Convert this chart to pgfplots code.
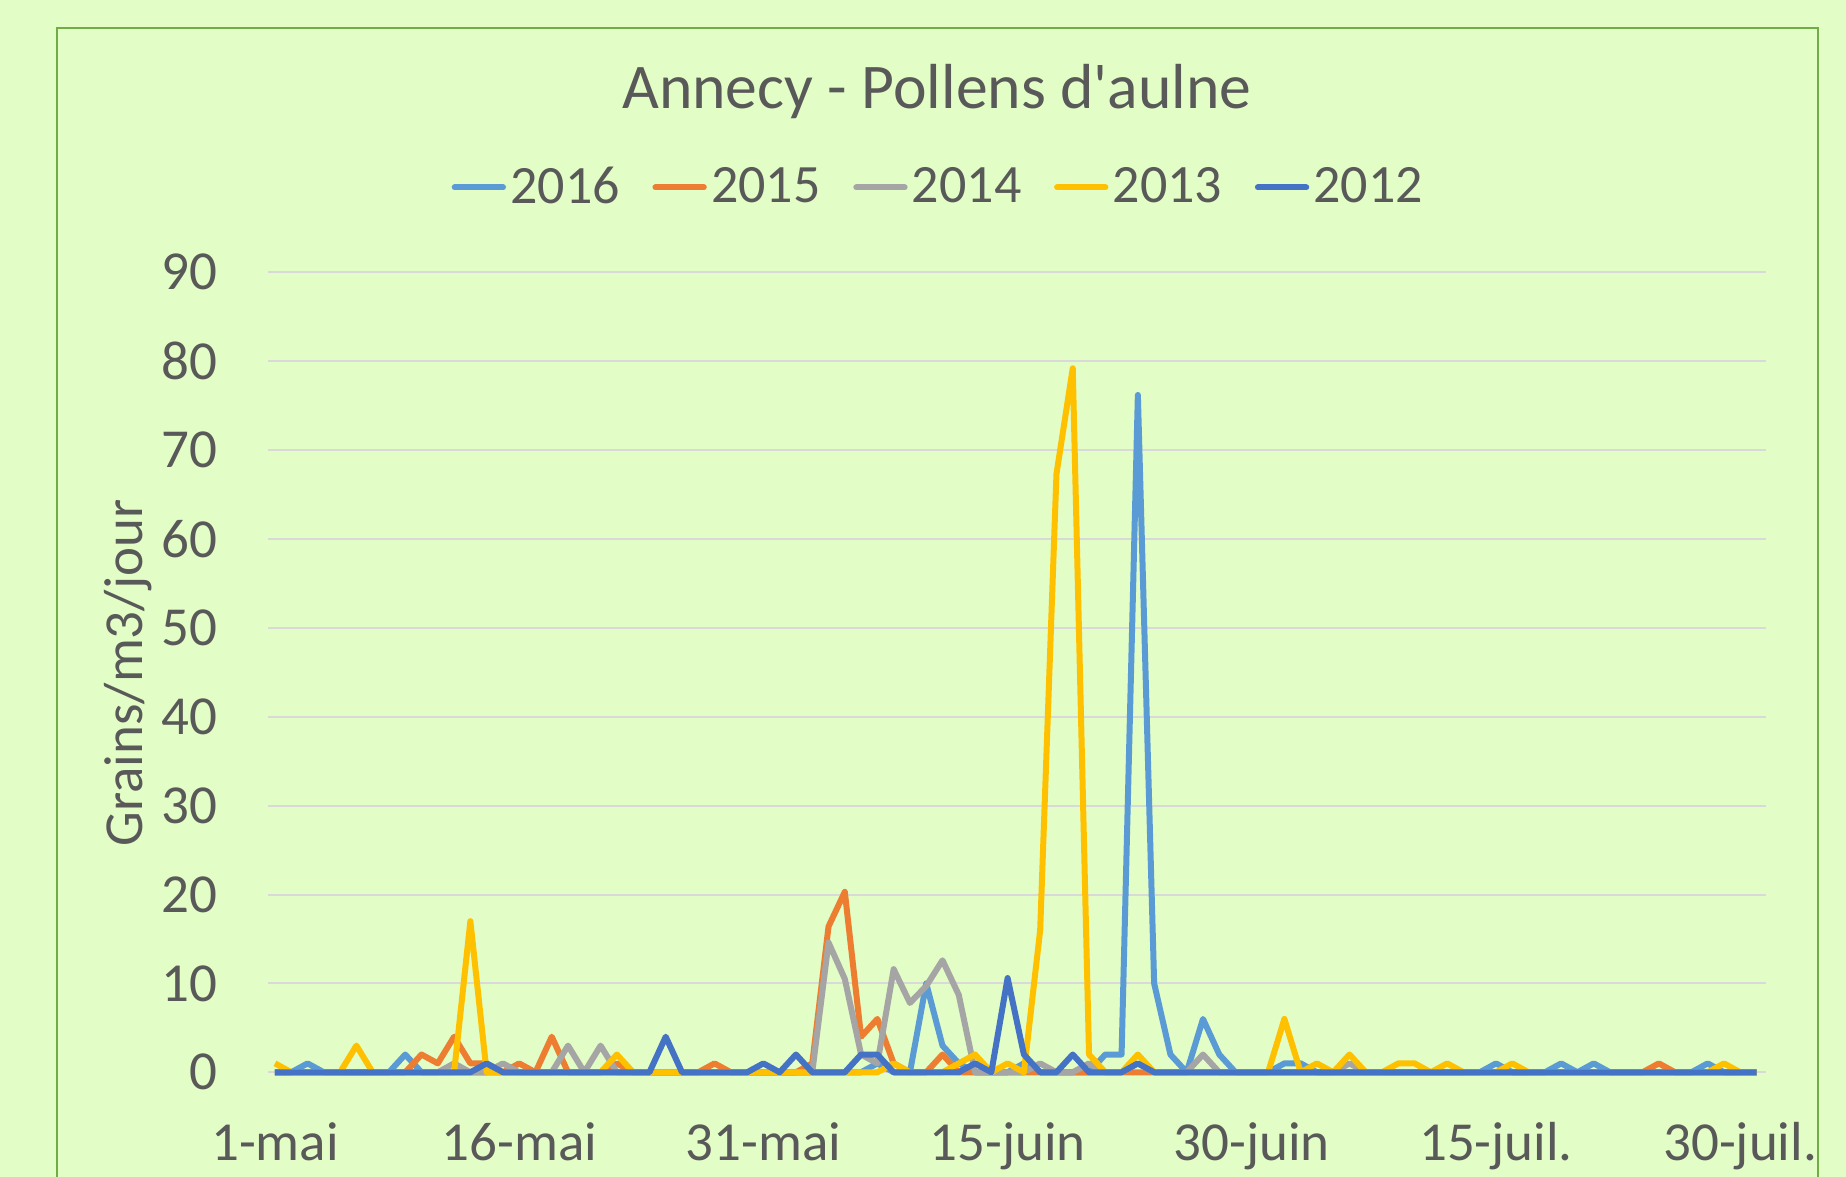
\documentclass[border=0pt]{standalone}
\usepackage{fontspec}
\setmainfont{Carlito}[Ligatures=TeXOff]
\usepackage{pgfplots}
\usepackage{pgfplotstable}
\pgfplotsset{compat=1.18}

\definecolor{bg}{RGB}{226,253,197}
\definecolor{frame}{RGB}{112,173,71}
\definecolor{txt}{RGB}{89,89,89}
\definecolor{gridc}{RGB}{217,217,217}
\definecolor{c2016}{RGB}{91,155,213}
\definecolor{c2015}{RGB}{237,125,49}
\definecolor{c2014}{RGB}{165,165,165}
\definecolor{c2013}{RGB}{255,192,0}
\definecolor{c2012}{RGB}{68,114,196}

% day 0 = 1-mai
\pgfplotstableread{
day s16 s15 s14 s13 s12
0 0 0 0 1 0
1 0 0 0 0 0
2 1 0 0 0 0
3 0 0 0 0 0
4 0 0 0 0 0
5 0 0 0 3 0
6 0 0 0 0 0
7 0 0 0 0 0
8 2 0 0 0 0
9 0 2 0 0 0
10 0 1 0 0 0
11 0 4 1 0 0
12 0 1 0 17 0
13 0 1 0 0 1
14 0 0 1 0 0
15 0 1 0 0 0
16 0 0 0 0 0
17 0 4 0 0 0
18 0 0 3 0 0
19 0 0 0 0 0
20 0 0 3 0 0
21 0 1 0 2 0
22 0 0 0 0 0
23 0 0 0 0 0
24 0 0 0 0 4
25 0 0 0 0 0
26 0 0 0 0 0
27 0 1 0 0 0
28 0 0 0 0 0
29 0 0 0 0 0
30 0 0 0 0 1
31 0 0 0 0 0
32 0 0 0 0 2
33 0 1 0 0 0
34 0 16.4 14.6 0 0
35 0 20.3 10.5 0 0
36 0 4 2 0 2
37 1 6 1 0 2
38 0 1 11.6 1 0
39 0 0 7.8 0 0
40 10 0 9.7 0 0
41 3 2 12.6 0 0
42 1 0 8.7 1 0
43 0 0 0 2 1
44 0 0 0 0 0
45 0 0 0 1 10.6
46 1 0 0 0 2
47 0 0 1 16 0
48 0 0 0 67.3 0
49 0 0 0 79.2 2
50 0 0 1 2 0
51 2 0 0 0 0
52 2 0 0 0 0
53 76.2 0 1 2 1
54 10 0 0 0 0
55 2 0 0 0 0
56 0 0 0 0 0
57 6 0 2 0 0
58 2 0 0 0 0
59 0 0 0 0 0
60 0 0 0 0 0
61 0 0 0 0 0
62 1 0 0 6 0
63 1 0 0 0 0
64 0 0 0 1 0
65 0 0 0 0 0
66 0 0 1 2 0
67 0 0 0 0 0
68 0 0 0 0 0
69 0 0 0 1 0
70 0 0 0 1 0
71 0 0 0 0 0
72 0 0 0 1 0
73 0 0 0 0 0
74 0 0 0 0 0
75 1 0 0 0 0
76 0 0 0 1 0
77 0 0 0 0 0
78 0 0 0 0 0
79 1 0 0 0 0
80 0 0 0 0 0
81 1 0 0 0 0
82 0 0 0 0 0
83 0 0 0 0 0
84 0 0 0 0 0
85 0 1 0 0 0
86 0 0 0 0 0
87 0 0 0 0 0
88 1 0 0 0 0
89 0 0 0 1 0
90 0 0 0 0 0
91 0 0 0 0 0
}\pollen

\begin{document}
\begin{tikzpicture}[x=0.3pt,y=0.3pt]
\useasboundingbox (0,0) rectangle (1846,1177);
\fill[bg] (0,0) rectangle (1846,1177);
\draw[frame, line width=0.6pt] (57,-20) -- (57,1149) -- (1818,1149) -- (1818,-20);
\node[anchor=base, text=txt, font=\fontsize{19.1}{22}\selectfont] at (937,1068) {Annecy - Pollens d'aulne};
\node[rotate=90, anchor=base, text=txt, font=\fontsize{16.5}{18}\selectfont] at (143,504) {Grains/m3/jour};

\begin{axis}[
    at={(80.4pt,31.41pt)}, anchor=south west,
    scale only axis, width=449.4pt, height=240pt,
    xmin=-0.43, xmax=91.58, ymin=0, ymax=90,
    clip=false,
    axis line style={draw=none},
    major tick length=0pt,
    ytick={0,10,...,90},
    xtick={0,15,...,90},
    xticklabels={1-mai,16-mai,31-mai,15-juin,30-juin,15-juil.,30-juil.},
    ymajorgrids, grid style={gridc, line width=0.6pt},
    /pgf/number format/assume math mode=true,
    tick label style={text=txt, font=\fontsize{16.5}{18}\selectfont},
    yticklabel style={anchor=east, inner sep=0pt, xshift=-15pt},
    xticklabel style={anchor=base, inner sep=0pt, yshift=-26.5pt},
    legend columns=5,
    legend style={at={(0.4483,1.106)}, anchor=center, draw=none, fill=none,
        text=txt, font=\fontsize{16.2}{18}\selectfont, nodes={inner sep=1.3pt},
        /tikz/every even column/.append style={column sep=8.5pt}},
    legend image code/.code={\draw[#1, line width=1.8pt, line cap=round] (0pt,0pt) -- (14.5pt,0pt);},
    every axis plot/.append style={no marks, line width=1.8pt, line join=round},
]
\addplot[c2016] table[x=day, y=s16] {\pollen};
\addlegendentry{2016}
\addplot[c2015] table[x=day, y=s15] {\pollen};
\addlegendentry{2015}
\addplot[c2014] table[x=day, y=s14] {\pollen};
\addlegendentry{2014}
\addplot[c2013] table[x=day, y=s13] {\pollen};
\addlegendentry{2013}
\addplot[c2012] table[x=day, y=s12] {\pollen};
\addlegendentry{2012}
\end{axis}
\end{tikzpicture}
\end{document}
